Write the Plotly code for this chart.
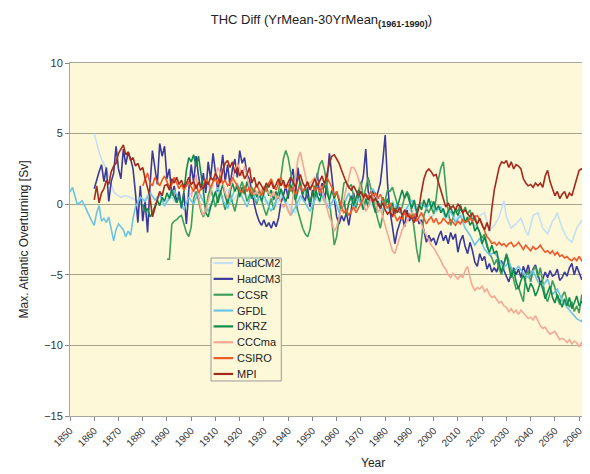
import plotly.graph_objects as go

# ---------------- data ----------------
hadcm2_years = [1860, 1861, 1862, 1863, 1864, 1865, 1866, 1867, 1868, 1869, 1871, 1873, 1875, 1877, 1879,
                1881, 1883, 1885, 1887, 1889, 1891, 1893, 1895, 1897, 1899, 1901, 1903, 1905, 1907, 1909,
                1911, 1913, 1915, 1917, 1919, 1921, 1923, 1925, 1927, 1929, 1931, 1933, 1935, 1937, 1939,
                1941, 1943, 1945, 1947, 1949, 1951, 1953, 1955, 1957, 1959, 1961, 1963, 1965, 1967, 1969,
                1971, 1973, 1975, 1977, 1979, 1981, 1983, 1985, 1987, 1989, 1991, 1993, 1995, 1997, 1999,
                2001, 2003, 2005, 2007, 2009, 2011, 2013, 2015, 2017, 2019, 2021, 2023, 2025, 2027, 2029,
                2030, 2032, 2034, 2036, 2038, 2039, 2041, 2043, 2045, 2047, 2049, 2050, 2051, 2053, 2055,
                2057, 2059, 2061, 2062]
hadcm2_vals = [5.0, 4.3, 3.7, 3.2, 2.9, 2.5, 2.0, 1.5, 0.9, 0.7, 0.5, 0.6, 0.5, 0.3, 0.1,
               0.4, 0.9, 0.3, 0.6, -0.2, 0.8, 0.2, 0.5, -0.3, 0.6, 1.0, 0.3, 0.8, 1.3, 0.5,
               1.0, 0.4, 1.1, 0.2, 0.7, 1.2, 0.5, 0.9, 0.1, 0.6, 0.0, 0.4, -0.2, 0.6, 0.2,
               -0.3, -0.6, 0.3, 0.8, -0.1, 0.5, 0.1, 0.6, -0.2, 0.4, -0.3, 0.2, 0.7, 0.1, 0.4,
               -0.4, 0.3, -0.2, 0.5, 0.0, -0.5, 0.2, -0.3, -0.8, -0.2, -0.6, -0.1, -0.9, -0.4, -1.0,
               -0.5, -0.2, -0.8, -0.4, -1.1, -0.6, -1.4, -0.9, -1.6, -0.8, -0.6, -1.9, -1.5, -0.9, 0.25,
               -0.9, -1.7, -1.4, -1.0, -1.9, -2.2, -0.8, -0.6, -1.7, -2.1, -1.2, -1.0, -0.6, -1.7, -2.4,
               -2.7, -1.7, -1.15, -1.0]

gfdl_years = [1850, 1851, 1852, 1853, 1854, 1855, 1856, 1857, 1858, 1859, 1860, 1861, 1862, 1863, 1864,
              1865, 1866, 1867, 1868, 1869, 1870, 1871, 1872, 1873, 1874, 1875, 1876, 1877, 1878, 1879,
              1881, 1883, 1885, 1887, 1889, 1891, 1893, 1895, 1897, 1899, 1901, 1903, 1905, 1907, 1909,
              1911, 1913, 1915, 1917, 1919, 1921, 1923, 1925, 1927, 1929, 1931, 1933, 1935, 1937, 1939,
              1941, 1943, 1945, 1947, 1949, 1951, 1953, 1955, 1957, 1959, 1961, 1963, 1965, 1967, 1969,
              1971, 1973, 1975, 1977, 1979, 1981, 1983, 1985, 1987, 1989, 1991, 1993, 1995, 1997, 1999,
              2001, 2003, 2005, 2007, 2009, 2011, 2013, 2015, 2017, 2019, 2021, 2023, 2025, 2027, 2029,
              2031, 2033, 2035, 2037, 2039, 2041, 2043, 2045, 2047, 2049, 2051, 2053, 2055, 2057, 2059,
              2061, 2062]
gfdl_vals = [0.85, 1.2, 0.6, 0.0, 0.1, 0.25, -0.1, -0.5, -0.9, -1.2, -1.5, -0.6, -0.1, -1.2, -1.0,
             -1.3, -0.9, -1.8, -2.6, -1.8, -1.4, -1.6, -1.8, -2.3, -1.9, -2.2, -1.0, -0.2, 0.2, 0.5,
             0.2, 0.8, 0.3, 0.7, -0.1, 0.4, 1.0, 0.3, -0.4, 0.5, 0.0, 0.9, 0.2, -0.5, 0.4,
             1.2, 0.3, -0.3, 0.6, 1.5, 0.5, -0.2, 0.8, 0.2, 1.0, 0.3, -0.5, 0.2, 0.9, 0.0,
             -0.8, -0.2, 0.6, 0.1, -0.5, 0.3, 1.0, 0.2, -0.3, 0.5, -0.6, 0.0, 0.8, -0.2, 0.4,
             -0.3, 0.6, 1.1, 0.2, -0.4, 0.3, -0.6, 0.0, -0.8, -0.2, 0.3, -0.5, 0.1, -0.3, 0.2,
             -0.5, -0.2, -1.0, -0.5, -1.3, -0.8, -1.7, -2.2, -2.9, -2.4, -3.2, -3.6, -3.4, -4.0, -4.5,
             -4.1, -4.8, -4.4, -4.9, -5.2, -4.7, -5.5, -5.8, -5.3, -6.4, -6.0, -6.8, -7.3, -7.7, -8.1,
             -8.3, -8.0]

hadcm3_start = 1860
hadcm3_vals = [1.1, 1.8, 2.3, 2.8, 1.6, 2.6, 0.2, 1.6, 2.2, 4.1,
               2.5, 1.8, 3.9, 2.8, 3.7, 3.2, 2.5, 0.8, -1.3, 1.3,
               -1.2, 0.2, -2.0, 1.3, 3.8, 2.6, 1.4, 4.3, 3.4, 4.1,
               1.8, 2.5, 0.6, 1.3, 0.1, 0.9, -0.3, 0.8, -1.4, 1.0,
               2.8, 1.5, 3.4, 2.0, 1.0, 2.2, 0.8, 3.0, 1.8, 3.6,
               2.2, 0.9, 2.1, 3.5, 1.6, 2.8, 1.3, 2.5, 3.2, 1.9,
               3.8, 2.9, 3.3, 2.1, 1.8, 0.8, 0.0, -0.7, -1.2, -1.5,
               -1.1, -1.6, -1.3, -1.7, -1.2, -1.6, -1.0, 0.1, 0.6, 1.3,
               0.4, 1.8, 2.5, 0.6, 2.6, 1.3, 0.6, 0.2, 1.2, -0.2,
               1.0, 0.3, 2.2, 0.6, 1.5, 0.2, 1.6, 3.6, 1.8, 0.4,
               -0.9, -1.4, -0.8, -1.2, -0.6, -1.5, -0.4, 0.8, -0.2, 0.5,
               1.2, 2.0, 3.9, 0.9, 0.3, 1.0, 0.2, 0.8, 1.5, 3.0,
               4.9, 1.4, -0.5, -1.6, -2.8, -1.9, -1.4, -0.8, -1.6, -0.4,
               -1.2, -0.8, -1.0, -0.6, -1.4, -1.1, -1.9, -2.7, -2.2, -2.6,
               -2.4, -2.9, -2.3, -1.9, -2.6, -2.2, -2.8, -2.0, -2.5, -2.1,
               -3.4, -2.6, -2.2, -3.0, -3.5, -2.7, -3.3, -4.1, -4.4, -3.5,
               -4.0, -3.7, -4.6, -4.2, -4.8, -4.5, -4.8, -4.2, -4.0, -4.7,
               -5.1, -5.5, -4.9, -4.5, -5.0, -4.6, -5.2, -4.4, -4.9, -4.3,
               -5.1, -4.6, -4.3, -5.0, -5.6, -5.3, -4.8, -5.2, -4.7, -5.1,
               -5.0, -4.6, -5.4, -5.2, -4.8, -5.1, -4.5, -4.2, -5.0, -4.4,
               -4.9, -5.3, -5.2]

ccsr_start = 1890
ccsr_vals = [-3.9, -3.9, -1.4, -1.2, -1.1, -0.9, -0.8, -1.5, -2.0, -2.3,
             -1.6, 0.4, 0.9, 0.3, -0.5, -0.9, -0.4, 0.6, 1.2, 0.5,
             -0.2, 0.4, 1.0, 0.3, -0.4, 0.2, 0.8, 0.1, -0.5, 0.3,
             1.1, 1.6, 0.9, 0.2, 0.6, 1.2, 0.5, 0.0, 0.7, 0.3,
             -0.3, -0.8, -0.2, 0.4, -0.4, 0.2, 0.9, 1.9, 3.2, 3.8,
             3.3, 2.3, 1.2, 0.3, -0.5, -1.1, -1.7, -2.1, -2.3, -1.8,
             -0.6, 0.8, 2.0, 2.8, 3.1, 2.4, 1.4, 0.2, -1.2, -2.9,
             -2.3, -1.0, 0.0, 1.5, 1.6, 1.2, 1.4, 0.5, -0.3, 0.9,
             1.6, 0.4, 1.1, 1.9, 1.2, 0.3, -0.4, -1.1, -1.7, -0.8,
             0.3, 1.0, 0.9, 1.2, 0.5, 0.0, -0.6, -0.2, 0.5, 0.9,
             0.6, -0.5, -1.8, -3.2, -4.1, -2.5, -0.8, -0.3, -0.6, -0.2,
             -0.7, 0.4, 1.8, 2.6, 3.0, 1.2, -0.5, -1.5, -1.0, -0.3,
             -0.5, 0.0, -0.6, -0.2, -0.7, -0.4, -1.2, -0.8, -1.6, -2.0,
             -2.4, -2.1, -2.9, -3.5, -3.8, -4.3, -3.9, -4.6, -5.0, -4.2,
             -3.5, -4.0, -4.7, -5.3, -6.0, -5.9, -6.4, -6.9, -5.1, -4.7,
             -5.5, -4.7, -4.4, -5.2, -4.5, -5.6, -6.5, -6.9, -6.3, -5.4,
             -5.9, -6.6, -7.1, -6.5, -6.2, -6.8, -7.3, -6.9, -7.6, -7.2,
             -7.7, -6.5, -6.2]

dkrz_start = 1880
dkrz_vals = [0.0, -0.5, -0.3, -0.9, -0.6, -0.2, 0.3, -0.1, 0.5, 0.2,
             0.8, 0.4, 1.0, 0.5, 0.1, 0.6, -0.2, 0.9, 2.4, 3.3,
             3.0, 3.5, 2.7, 3.4, 2.2, 1.0, -0.6, -0.9, -0.2, 0.4,
             0.9, 0.1, 0.7, 1.4, 0.6, 0.0, 0.8, 1.5, 0.9, 1.3,
             0.5, 1.2, 0.7, 1.6, 1.0, 0.4, 1.1, 0.5, 0.9, 0.2,
             0.8, 1.3, 0.6, 1.0, 0.3, 0.9, 0.4, 1.1, 0.6, 0.2,
             0.7, 1.4, 0.8, 0.3, 0.9, 1.6, 0.7, 1.2, 0.5, 0.1,
             0.7, 1.3, 0.6, 0.2, 0.9, 1.4, 0.8, 0.3, 1.0, 0.4,
             0.9, 0.2, -0.5, 0.3, -0.8, 0.1, 0.6, -0.1, 0.5, 1.0,
             0.3, -0.4, 0.4, -0.2, 0.6, 0.0, -0.6, 0.2, -0.3, 0.5,
             -0.1, 0.4, -0.5, 0.1, -0.7, -0.2, 0.5, 1.0, 0.4, 0.8,
             0.2, -0.3, 0.3, -0.6, 0.0, -0.4, 0.3, -0.2, 0.4, -0.3,
             0.2, -0.4, -0.1, -0.6, -0.3, -0.9, -0.5, -0.2, -0.7, -0.4,
             -0.8, -0.3, -0.6, -1.3, -0.9, -1.5, -1.2, -1.9, -1.6, -2.0,
             -2.8, -2.3, -3.0, -3.4, -2.9, -3.5, -3.3, -4.2, -4.8, -4.1,
             -3.6, -4.4, -5.2, -4.6, -5.5, -6.0, -5.4, -5.0, -5.7, -6.2,
             -5.6, -5.9, -6.5, -6.1, -5.5, -6.0, -6.7, -6.3, -5.8, -6.6,
             -7.0, -6.4, -6.9, -7.3, -6.7, -7.2, -6.6, -7.4, -7.0, -6.5,
             -7.2, -6.9, -6.8]

cccma_start = 1900
cccma_vals = [0.5, 1.2, 2.1, 0.6, -0.3, -0.8, -0.4, 0.2, 0.9, 1.5,
              2.0, 2.6, 2.2, 1.6, 0.8, 0.4, 1.1, 1.7, 2.4, 2.9,
              2.5, 2.0, 2.7, 1.9, 1.2, 0.9, 0.7, 0.9, 0.6, 1.0,
              1.3, 0.9, 0.8, 0.5, 0.9, 0.4, 0.6, 0.1, -0.2, 0.0,
              -0.5, -0.8, 0.5, 1.8, 3.2, 3.7, 3.0, 2.1, 1.3, 1.5,
              1.7, 1.9, 1.6, 1.4, 1.0, 0.3, -0.4, -0.9, -1.3, -1.9,
              -1.6, -1.0, -0.3, 0.4, 1.2, 2.0, 2.6, 2.6, 2.3, 1.8,
              0.9, 0.1, -0.5, -0.2, 0.3, 0.7, 0.2, -0.6, -0.3, -1.0,
              -1.5, -2.1, -2.8, -3.3, -3.5, -2.9, -2.4, -1.8, -1.5, -1.2,
              -0.9, -0.6, -0.7, -0.9, -1.1, -1.4, -1.9, -2.2, -2.6, -2.9,
              -3.1, -3.4, -3.6, -4.0, -4.4, -4.6, -5.0, -5.2, -4.9, -5.1,
              -5.3, -5.0, -5.2, -4.7, -4.4, -5.2, -5.8, -6.1, -5.9, -6.0,
              -5.8, -6.2, -6.0, -6.4, -6.6, -6.5, -6.8, -7.0, -6.9, -7.2,
              -7.3, -7.6, -7.4, -7.7, -7.5, -7.8, -7.5, -7.7, -7.9, -8.1,
              -8.0, -8.2, -7.9, -8.3, -8.6, -8.8, -8.7, -9.0, -9.2, -9.1,
              -9.0, -9.3, -9.6, -9.5, -9.6, -9.8, -9.6, -9.9, -9.7, -9.8,
              -10.1, -9.8, -9.9]

csiro_start = 1880
csiro_vals = [1.3, 1.8, 2.2, 1.5, 1.3, 1.9, 1.6, 1.3, 1.7, 2.0,
              1.6, 1.2, 1.4, 1.9, 1.5, 1.1, 1.4, 1.0, 1.3, 1.6,
              1.2, 0.9, 1.4, 0.8, 1.1, 1.3, 1.8, 1.5, 1.2, 1.6,
              1.8, 1.4, 1.9, 1.5, 1.7, 1.3, 1.5, 1.9, 1.6, 1.2,
              1.0, 0.8, 1.3, 0.9, 1.2, 0.7, 1.1, 1.4, 1.0, 0.6,
              1.2, 0.9, 1.5, 1.8, 1.3, 1.0, 1.5, 1.9, 1.4, 1.1,
              1.4, 0.9, 1.2, 0.7, 1.0, 1.3, 0.9, 1.2, 1.5, 1.1,
              1.4, 1.0, 1.2, 0.8, 1.1, 1.5, 1.9, 1.6, 1.2, 0.6,
              0.9, 0.4, -0.2, -0.6, -0.4, -0.8, -0.5, -0.2, -0.6, -0.3,
              0.0, 0.3, 0.7, 0.5, 0.9, 0.6, 0.8, 0.4, 0.7, 0.3,
              0.0, -0.3, 0.1, -0.4, -0.8, -1.2, -0.9, -1.1, -0.6, -0.9,
              -0.7, -1.0, -0.7, -1.2, -0.9, -0.6, -1.0, -1.4, -1.1, -0.9,
              -1.3, -1.0, -1.4, -1.3, -1.0, -1.2, -1.4, -1.1, -1.3, -1.5,
              -1.2, -1.4, -1.1, -1.3, -1.2, -1.0, -1.2, -0.9, -0.8, -1.1,
              -1.4, -1.9, -2.3, -2.5, -2.8, -2.7, -2.9, -2.7, -2.9, -2.8,
              -3.0, -2.8, -2.7, -3.0, -2.9, -2.7, -3.0, -3.2, -2.9, -3.1,
              -3.3, -3.0, -3.2, -3.1, -2.9, -3.2, -3.4, -3.3, -3.5, -3.3,
              -3.6, -3.4, -3.7, -3.6, -3.8, -3.7, -3.9, -4.0, -3.8, -4.0,
              -3.7, -4.0, -4.1]

mpi_start = 1860
mpi_vals = [0.3, 1.3, 0.1, 0.8, 1.1, 1.7, 1.4, 2.3, 2.7, 2.9,
            3.6, 3.9, 4.2, 3.5, 3.7, 3.1, 3.3, 2.7, 2.9, 2.4,
            2.6, 1.8, 1.2, 0.5, -0.9, -0.3, 0.4, 0.9, 0.6, 1.3,
            1.4, 1.0, 1.8, 1.5, 1.9, 1.4, 1.7, 1.2, 1.5, 1.9,
            1.4, 1.6, 1.1, 1.5, 1.3, 1.1, 1.6, 1.4, 1.9, 1.7,
            2.2, 1.8, 1.5, 2.4, 2.9, 3.1, 2.6, 3.0, 2.2, 2.6,
            2.0, 2.4, 1.8, 2.1, 2.6, 1.5, 1.9, 1.2, 1.6, 1.3,
            1.0, 1.5, 1.2, 1.6, 1.1, 1.4, 1.8, 1.3, 1.7, 1.2,
            1.5, 1.9, 1.6, 1.2, 1.8, 2.1, 1.5, 1.2, 1.6, 1.0,
            1.4, 1.8, 1.3, 1.7, 2.0, 1.4, 2.2, 2.9, 3.4, 3.5,
            3.2, 2.9, 2.4, 1.9, 1.5, 1.2, 1.0, 1.3, 0.9, 0.6,
            0.9, 0.5, 0.7, 0.3, 0.6, 0.2, 0.4, 0.0, -0.3, 0.1,
            -0.4, -0.7, -0.5, -0.9, -0.3, -0.6, -0.2, -0.8, -0.4, -0.7,
            -0.9, -1.0, -1.3, -0.8, -0.2, 0.9, 1.8, 2.3, 2.5, 2.3,
            2.0, 2.1, 1.5, 1.0, 0.4, -0.2, 0.1, -0.3, -0.1, -0.4,
            0.0, -0.2, -0.6, -0.4, -0.7, -0.9, -0.6, -1.1, -1.4, -1.0,
            -1.5, -1.8, -1.3, -1.9, -0.3, 1.0, 1.8, 2.6, 3.0, 2.9,
            3.1, 2.6, 3.0, 2.5, 2.8, 2.7, 2.5, 1.8, 1.5, 1.3,
            1.4, 1.2, 1.5, 1.3, 1.5, 1.2, 2.0, 2.4, 1.6, 1.1,
            0.6, 0.9, 0.4, 0.7, 0.9, 0.4, 0.8, 0.6, 1.2, 1.8,
            2.4, 2.5, 2.3]

series_names = ["HadCM2", "HadCM3", "CCSR", "GFDL", "DKRZ", "CCCma", "CSIRO", "MPI"]
series_colors = ["#c4e0f2", "#3a3a9c", "#3e9e5e", "#6cc4e4", "#108a4c", "#f6a896", "#f05a2a", "#a42a1c"]

x_tick_years = list(range(1850, 2061, 10))
y_ticks = [-15, -10, -5, 0, 5, 10]


def yr(start, vals):
    return list(range(start, start + len(vals)))


series_data = [
    (hadcm2_years, hadcm2_vals),
    (yr(hadcm3_start, hadcm3_vals), hadcm3_vals),
    (yr(ccsr_start, ccsr_vals), ccsr_vals),
    (gfdl_years, gfdl_vals),
    (yr(dkrz_start, dkrz_vals), dkrz_vals),
    (yr(cccma_start, cccma_vals), cccma_vals),
    (yr(csiro_start, csiro_vals), csiro_vals),
    (yr(mpi_start, mpi_vals), mpi_vals),
]

fig = go.Figure()
for name, color, (xs, ys) in zip(series_names, series_colors, series_data):
    fig.add_trace(go.Scatter(x=xs, y=ys, name=name, mode="lines",
                             line=dict(color=color, width=1.6)))

FONT = "Liberation Sans, Arial, sans-serif"
PLOT_BG = "#fdf8d8"

# compact legend box (paper coordinates), like the Excel legend
leg_x0, leg_x1 = 0.2749, 0.4119
leg_top, leg_bot = 0.4476, 0.0992
first_row, row_h = 0.4334, 0.0449
shapes = [dict(type="rect", xref="paper", yref="paper", x0=leg_x0, x1=leg_x1, y0=leg_bot, y1=leg_top,
               fillcolor=PLOT_BG, line=dict(color="#9a9a9a", width=1), layer="above")]
annotations = []
for i, (name, color) in enumerate(zip(series_names, series_colors)):
    yc = first_row - i * row_h
    shapes.append(dict(type="line", xref="paper", yref="paper", x0=leg_x0 + 0.005, x1=leg_x0 + 0.043,
                       y0=yc, y1=yc, line=dict(color=color, width=2.2), layer="above"))
    annotations.append(dict(text=name, xref="paper", yref="paper", x=leg_x0 + 0.046, y=yc,
                            xanchor="left", yanchor="middle", showarrow=False,
                            font=dict(family=FONT, size=11, color="#222222")))

annotations.append(dict(text="Year", xref="paper", yref="paper", x=0.59, y=-0.133,
                        showarrow=False, xanchor="center", yanchor="middle",
                        font=dict(family=FONT, size=12, color="#222222")))

fig.update_layout(
    width=590, height=474,
    margin=dict(l=62, r=15, t=55, b=66),
    paper_bgcolor="white",
    plot_bgcolor=PLOT_BG,
    font=dict(family=FONT, size=11, color="#333333"),
    title=dict(text="THC Diff (YrMean-30YrMean<sub><b>(1961-1990)</b></sub>)",
               x=0.49, xref="paper", xanchor="center", y=0.975, yanchor="middle",
               font=dict(family=FONT, size=13, color="#222222")),
    showlegend=False,
    shapes=shapes,
    annotations=annotations,
)
fig.update_xaxes(range=[1850, 2061.6], tickvals=x_tick_years, ticktext=[str(v) for v in x_tick_years],
                 tickangle=-45, tickfont=dict(size=10, color="#333333"),
                 ticks="outside", ticklen=4, tickcolor="#888888",
                 showgrid=False, zeroline=False,
                 showline=True, linecolor="#a8a8a0", linewidth=1, mirror=True)
fig.update_yaxes(range=[-15, 10], tickvals=y_ticks,
                 tickfont=dict(size=11, color="#333333"),
                 ticks="outside", ticklen=4, tickcolor="#888888",
                 showgrid=True, gridcolor="#a6a48c", gridwidth=1,
                 zeroline=False,
                 showline=True, linecolor="#a8a8a0", linewidth=1, mirror=True,
                 title=dict(text="Max. Atlantic Overturning [Sv]", standoff=12,
                            font=dict(family=FONT, size=12, color="#222222")))

fig.write_html("out.html")
